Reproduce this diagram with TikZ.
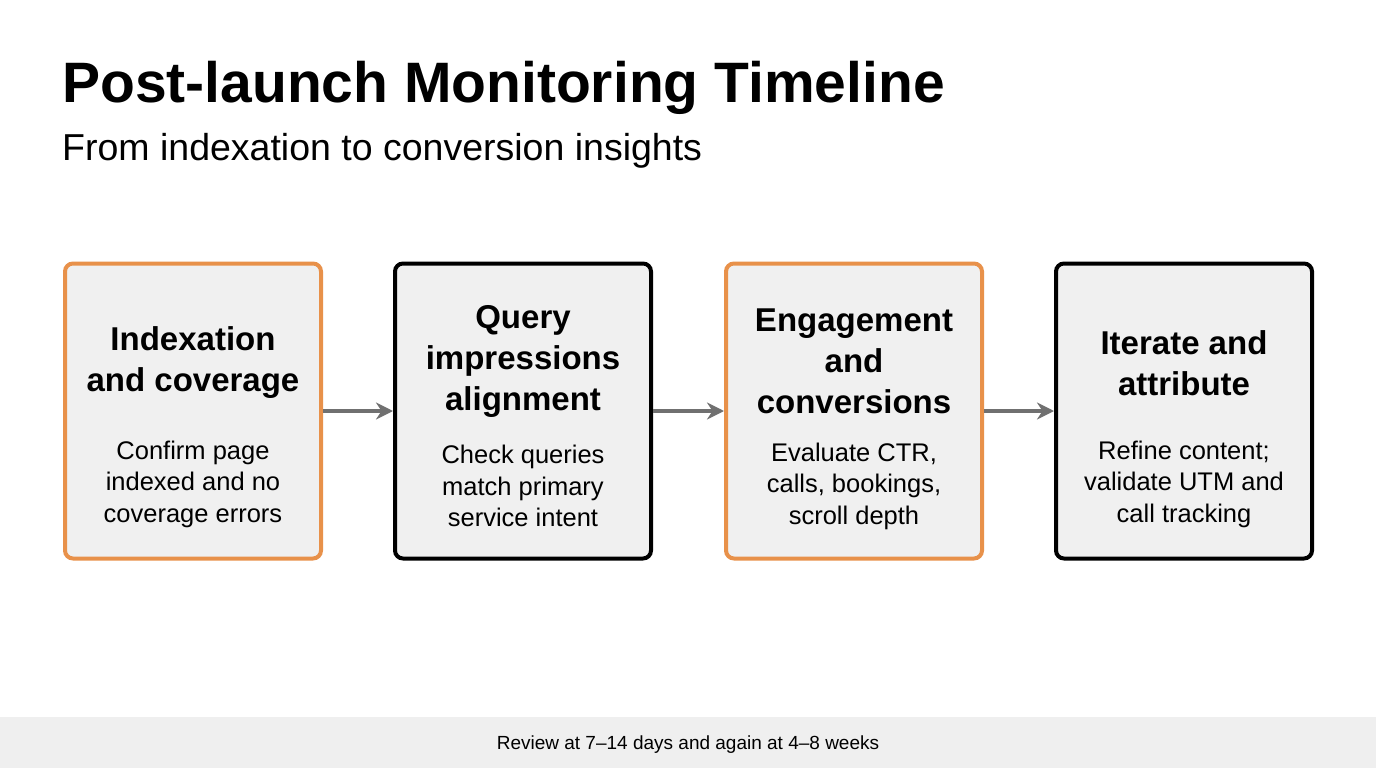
\documentclass[tikz,border=0pt]{standalone}
\usepackage{fontspec}
\setmainfont{Liberation Sans}
\usetikzlibrary{positioning}
\definecolor{accent}{HTML}{E8914A}
\definecolor{boxfill}{HTML}{F0F0F0}
\definecolor{arrowgray}{HTML}{707070}
\definecolor{band}{HTML}{EFEFEF}
\tikzset{
  step/.style={draw=#1, line width=4pt, rounded corners=8pt, fill=boxfill,
    minimum width=256pt, minimum height=295pt, inner sep=0pt},
  head/.style={align=center, font=\fontsize{33}{41}\selectfont\bfseries},
  body/.style={align=center, font=\fontsize{25.5}{31.5}\selectfont},
  link/.style={arrowgray, line width=3.5pt, -{Stealth[length=17pt,width=17pt]}}
}
\usetikzlibrary{arrows.meta}
\begin{document}
\begin{tikzpicture}[x=1pt,y=-1pt]
  \useasboundingbox (0,0) rectangle (1376,768);
  \fill [white] (0,0) rectangle (1376,768);

  % title and subtitle
  \node [anchor=base west, inner sep=0pt, font=\fontsize{57}{63}\selectfont\bfseries] (title) at (62,102) {Post-launch Monitoring Timeline};
  \node [anchor=base west, inner sep=0pt, font=\fontsize{37.5}{42}\selectfont] (subtitle) at (62,160) {From indexation to conversion insights};

  % the four steps
  \node [step=accent] (s1) at (193,411) {};
  \node [step=black]  (s2) at (523,411) {};
  \node [step=accent] (s3) at (854,411) {};
  \node [step=black]  (s4) at (1184,411) {};

  \node [head] (h1) at (193,363) {Indexation\\and coverage};
  \node [body] (b1) at (193,484) {Confirm page\\indexed and no\\coverage errors};
  \node [head] (h2) at (523,361) {Query\\impressions\\alignment};
  \node [body] (b2) at (523,486) {Check queries\\match primary\\service intent};
  \node [head] (h3) at (854,361) {Engagement\\and\\conversions};
  \node [body] (b3) at (854,486) {Evaluate CTR,\\calls, bookings,\\scroll depth};
  \node [head] (h4) at (1184,363) {Iterate and\\attribute};
  \node [body] (b4) at (1184,484) {Refine content;\\validate UTM and\\call tracking};

  % connectors
  \draw [link] (s1.east) -- (s2.west);
  \draw [link] (s2.east) -- (s3.west);
  \draw [link] (s3.east) -- (s4.west);

  % footer band
  \fill [band] (0,717) rectangle (1376,768);
  \node [font=\fontsize{19}{23}\selectfont] (note) at (688,745) {Review at 7–14 days and again at 4–8 weeks};
\end{tikzpicture}
\end{document}
